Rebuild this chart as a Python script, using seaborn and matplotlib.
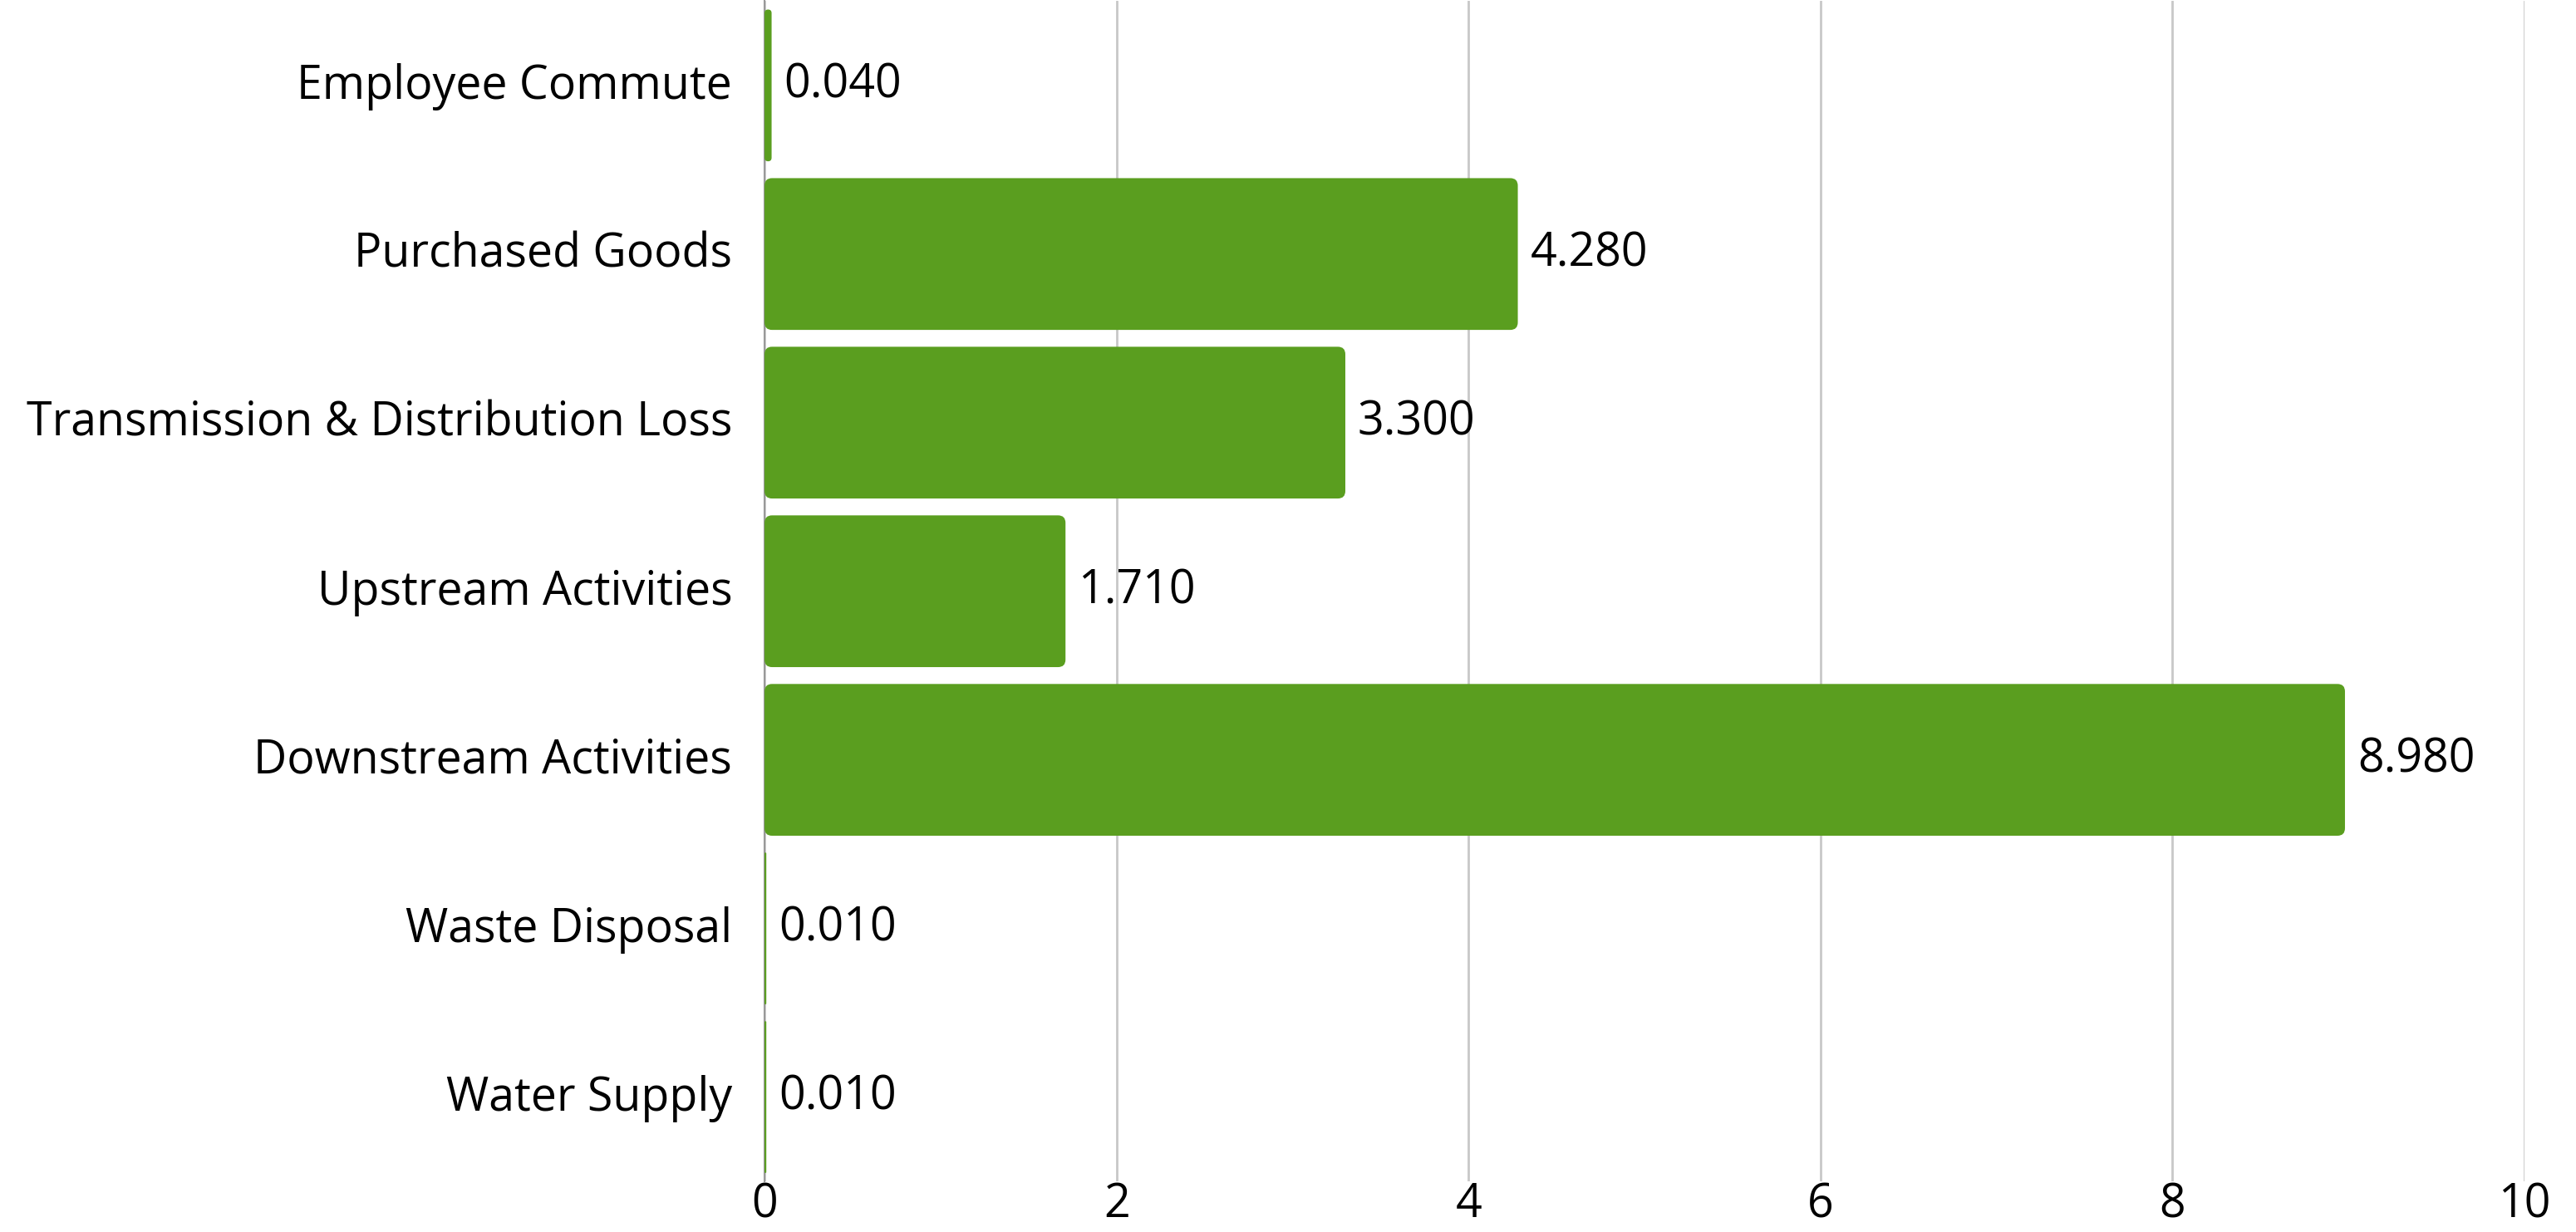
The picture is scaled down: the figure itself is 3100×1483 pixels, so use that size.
import matplotlib
matplotlib.use("Agg")
import matplotlib.pyplot as plt
import matplotlib.transforms as mtransforms
import seaborn as sns
import pandas as pd
from matplotlib.patches import FancyBboxPatch

categories = [
    "Employee Commute",
    "Purchased Goods",
    "Transmission & Distribution Loss",
    "Upstream Activities",
    "Downstream Activities",
    "Waste Disposal",
    "Water Supply",
]
values = [0.04, 4.28, 3.30, 1.71, 8.98, 0.01, 0.01]
x_ticks = [0, 2, 4, 6, 8, 10]

BAR_COLOR = "#5a9e1f"


def round_bars(ax, radius_px=9):
    # swap the plain rectangles for ones with rounded corners
    fig = ax.figure
    fig.canvas.draw()
    bbox = ax.get_window_extent()
    xlim = ax.get_xlim()
    ylim = ax.get_ylim()
    px_per_x = bbox.width / (xlim[1] - xlim[0])
    px_per_y = bbox.height / abs(ylim[1] - ylim[0])
    for p in list(ax.patches):
        x, y = p.get_x(), p.get_y()
        w, h = p.get_width(), p.get_height()
        r = min(radius_px / px_per_x, w / 2)
        new = FancyBboxPatch((x, y), w, h,
                             boxstyle=f"round,pad=0,rounding_size={r}",
                             mutation_aspect=px_per_x / px_per_y,
                             facecolor=p.get_facecolor(), edgecolor="none",
                             zorder=p.get_zorder())
        p.remove()
        ax.add_patch(new)


def main():
    sns.set_theme(style="white")
    plt.rcParams["font.family"] = ["Open Sans", "DejaVu Sans"]

    df = pd.DataFrame({"category": categories, "value": values})

    fig = plt.figure(figsize=(31, 14.83), dpi=100)
    ax = fig.add_axes([0.2968, 0.0411, 0.6832, 0.958])

    sns.barplot(data=df, x="value", y="category", color=BAR_COLOR,
                saturation=1, width=0.9, ax=ax, zorder=3)

    ax.set_xlim(0, 10)
    ax.set_xticks(x_ticks)
    ax.set_xticklabels([str(t) for t in x_ticks])
    ax.set_xlabel("")
    ax.set_ylabel("")
    ax.xaxis.grid(True, color="#c8c8c8", linewidth=2, zorder=0)
    ax.yaxis.grid(False)
    ax.set_axisbelow(True)
    for side in ["top", "right", "bottom"]:
        ax.spines[side].set_visible(False)
    ax.spines["left"].set_color("#999999")
    ax.spines["left"].set_linewidth(1.5)
    ax.tick_params(axis="both", length=0, labelsize=40, colors="black")
    ax.tick_params(axis="y", pad=28)
    ax.tick_params(axis="x", pad=0)

    # nudge category labels up a little so they sit on the bar centre
    shift = mtransforms.ScaledTranslation(0, 4 / 72, fig.dpi_scale_trans)
    for lbl in ax.get_yticklabels():
        lbl.set_transform(lbl.get_transform() + shift)

    for i, v in enumerate(values):
        ax.text(v + 0.07, i, f"{v:.3f}", va="center", ha="left",
                fontsize=40, color="black")

    round_bars(ax)

    fig.savefig("out.png", dpi=100)


if __name__ == "__main__":
    main()
